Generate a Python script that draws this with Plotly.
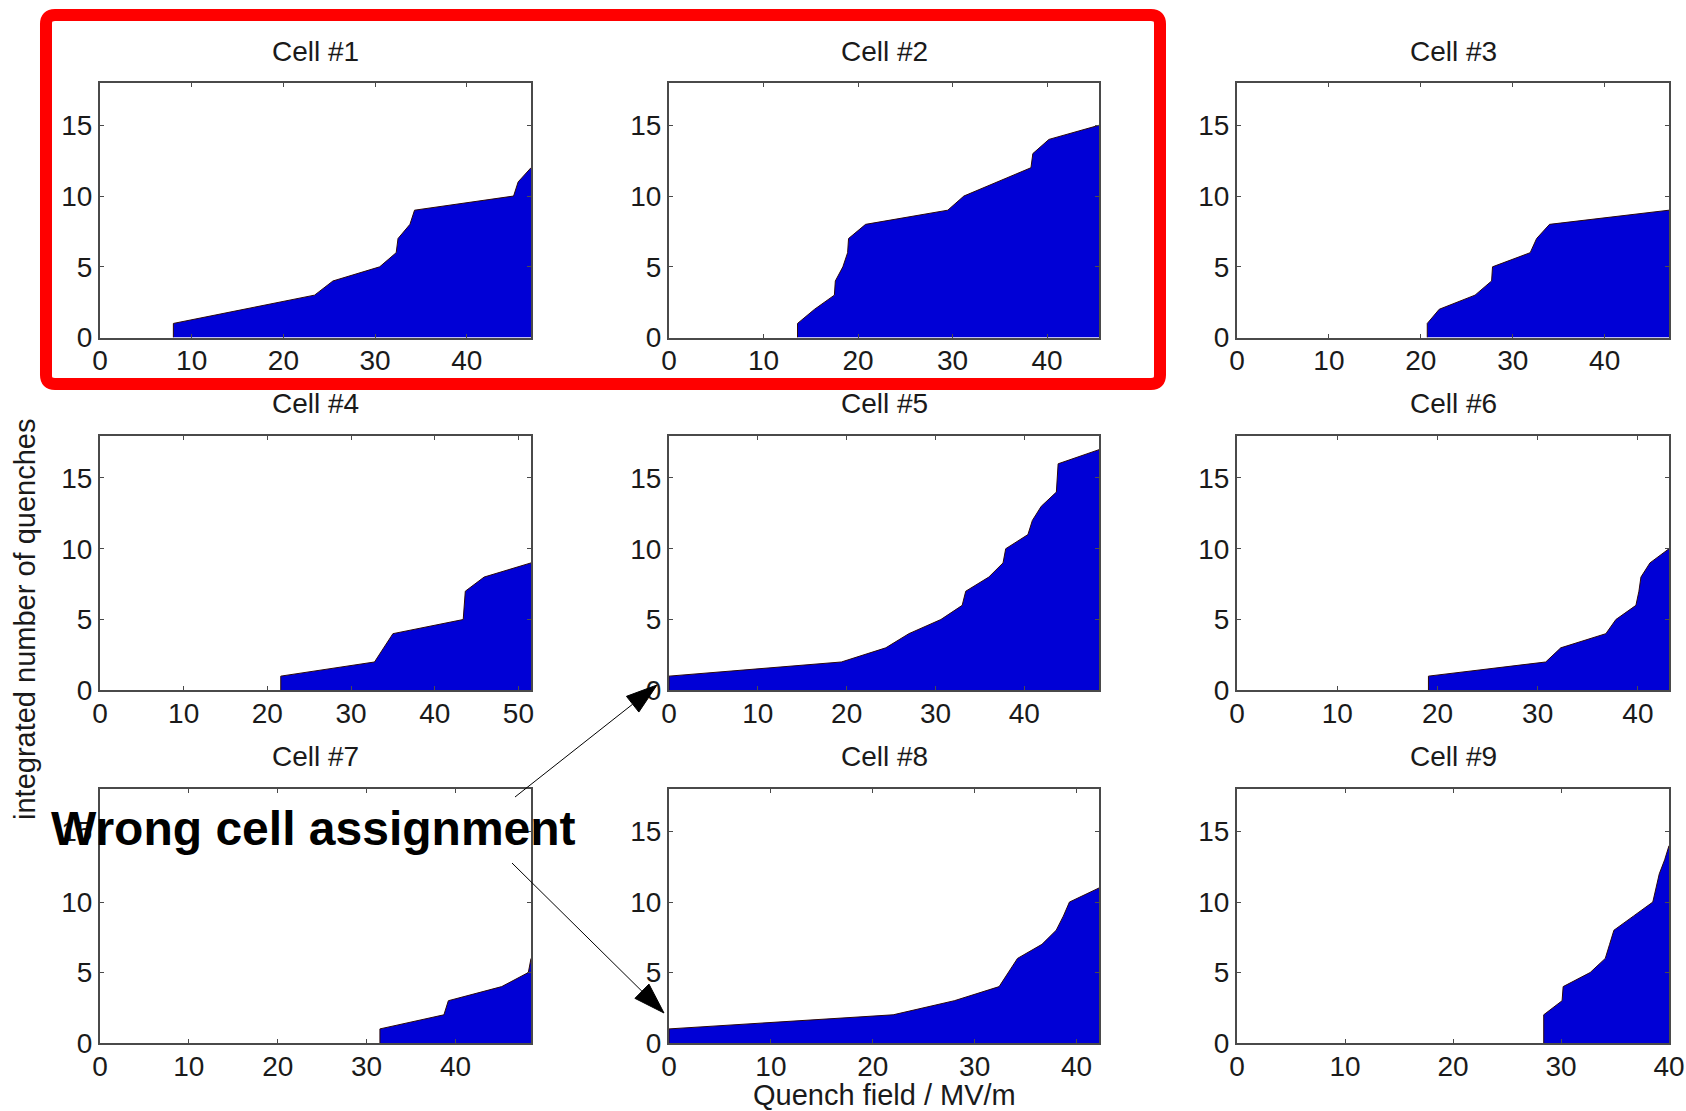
import math
import plotly.graph_objects as go

# ---------------- data ----------------
cell_titles = ["Cell #1", "Cell #2", "Cell #3", "Cell #4", "Cell #5",
               "Cell #6", "Cell #7", "Cell #8", "Cell #9"]

cell1_field = [8.0, 8.0, 15.7, 23.4, 25.4, 30.5, 32.3, 32.5, 33.8, 34.3, 45.1, 45.6, 47.0]
cell1_count = [0, 1, 2, 3, 4, 5, 6, 7, 8, 9, 10, 11, 12]

cell2_field = [13.6, 13.6, 15.4, 17.5, 17.6, 18.4, 18.9, 19.0, 20.8, 29.5, 31.2, 34.8, 38.3, 38.5, 40.2, 45.5]
cell2_count = [0, 1, 2, 3, 4, 5, 6, 7, 8, 9, 10, 11, 12, 13, 14, 15]

cell3_field = [20.7, 20.7, 22.0, 25.9, 27.7, 27.8, 31.9, 32.6, 34.0, 47.0]
cell3_count = [0, 1, 2, 3, 4, 5, 6, 7, 8, 9]

cell4_field = [21.6, 21.6, 32.8, 33.9, 35.0, 43.4, 43.5, 43.65, 45.9, 51.5]
cell4_count = [0, 1, 2, 3, 4, 5, 6, 7, 8, 9]

cell5_field = [0.0, 0.0, 19.4, 24.4, 27.0, 30.6, 33.0, 33.4, 36.0, 37.6, 37.9, 40.4, 40.9, 41.9, 43.6, 43.7, 43.8, 48.4]
cell5_count = [0, 1, 2, 3, 4, 5, 6, 7, 8, 9, 10, 11, 12, 13, 14, 15, 16, 17]

cell6_field = [19.1, 19.1, 30.8, 32.3, 36.8, 37.8, 39.8, 40.1, 40.3, 41.2, 43.1]
cell6_count = [0, 1, 2, 3, 4, 5, 6, 7, 8, 9, 10]

cell7_field = [31.5, 31.5, 38.7, 39.2, 45.2, 48.2, 48.5]
cell7_count = [0, 1, 2, 3, 4, 5, 6]

cell8_field = [0.0, 0.0, 22.0, 28.0, 32.4, 33.3, 34.2, 36.6, 38.0, 38.7, 39.3, 42.2]
cell8_count = [0, 1, 2, 3, 4, 5, 6, 7, 8, 9, 10, 11]

cell9_field = [28.4, 28.4, 30.1, 30.2, 32.7, 34.1, 34.5, 34.9, 36.7, 38.5, 38.8, 39.1, 39.6, 40.0]
cell9_count = [0, 2, 3, 4, 5, 6, 7, 8, 9, 10, 11, 12, 13, 14]

field_max = [47.0, 45.5, 47.0, 51.5, 48.4, 43.1, 48.5, 42.2, 40.0]
count_max = 18

x_ticks = [0, 10, 20, 30, 40, 50]
y_ticks = [0, 5, 10, 15]

x_label = "Quench field / MV/m"
y_label = "integrated number of quenches"
note_text = "Wrong cell assignment"

fields = [cell1_field, cell2_field, cell3_field, cell4_field, cell5_field,
          cell6_field, cell7_field, cell8_field, cell9_field]
counts = [cell1_count, cell2_count, cell3_count, cell4_count, cell5_count,
          cell6_count, cell7_count, cell8_count, cell9_count]

# ---------------- layout geometry (screen pixels) ----------------
W, H = 1686, 1111


def px(x):
    return x / W


def py(y):
    return 1 - y / H


col_px = [(100, 531), (669, 1099), (1237, 1669)]
row_px = [(82.8, 337.6), (435.5, 690.3), (789.3, 1043.0)]
title_py = [51, 403, 756]

FONT = "Liberation Sans, Arial, Helvetica, sans-serif"
TXT = "#1a1a1a"
AX = "#4a4a4a"
FILL = "rgb(0,0,214)"

fig = go.Figure()
layout = dict(
    width=W, height=H,
    margin=dict(l=0, r=0, t=0, b=0, autoexpand=False),
    paper_bgcolor="white", plot_bgcolor="white",
    showlegend=False,
    font=dict(family=FONT, size=28, color=TXT),
)
annotations = []
shapes = []

for i in range(9):
    r, c = divmod(i, 3)
    n = i + 1
    xs = "" if n == 1 else str(n)
    fig.add_trace(go.Scatter(
        x=fields[i], y=counts[i], mode="lines", fill="tozeroy",
        fillcolor=FILL, line=dict(color="#2a0808", width=1),
        xaxis="x" + xs, yaxis="y" + xs, hoverinfo="skip",
    ))
    x0, x1 = col_px[c]
    y0, y1 = row_px[r]
    common = dict(showline=True, linecolor=AX, linewidth=2, mirror="ticks",
                  ticks="inside", ticklen=4, tickwidth=1, tickcolor=AX,
                  showgrid=False, zeroline=False, ticklabeloverflow="allow",
                  automargin=False,
                  tickfont=dict(family=FONT, size=28, color=TXT))
    layout["xaxis" + xs] = dict(domain=[px(x0), px(x1)], range=[0, field_max[i]],
                                tickvals=x_ticks, anchor="y" + xs,
                                ticklabelstandoff=-3, **common)
    layout["yaxis" + xs] = dict(domain=[py(y1), py(y0)], range=[0, count_max],
                                tickvals=y_ticks, anchor="x" + xs, **common)
    annotations.append(dict(
        text=cell_titles[i], x=px((x0 + x1) / 2), y=py(title_py[r]),
        xref="paper", yref="paper", xanchor="center", yanchor="middle",
        showarrow=False, font=dict(family=FONT, size=28, color=TXT)))

# axis labels
annotations.append(dict(text=x_label, x=px(884), y=py(1095), xref="paper", yref="paper",
                        xanchor="center", yanchor="middle", showarrow=False,
                        font=dict(family=FONT, size=29, color=TXT)))
annotations.append(dict(text=y_label, x=px(25), y=py(620), xref="paper", yref="paper",
                        xanchor="center", yanchor="middle", showarrow=False, textangle=-90,
                        font=dict(family=FONT, size=29, color=TXT)))
# big note
annotations.append(dict(text="<b>" + note_text + "</b>", x=px(313), y=py(828),
                        xref="paper", yref="paper", xanchor="center", yanchor="middle",
                        showarrow=False, font=dict(family=FONT, size=48, color="black")))

# arrows
arrows = [((515, 797), (657, 685)), ((512, 863), (664, 1013))]
HEAD_L, HEAD_HW = 31, 10
for (sx, sy), (tx, ty) in arrows:
    dx, dy = tx - sx, ty - sy
    L = math.hypot(dx, dy)
    ux, uy = dx / L, dy / L
    bx, by = tx - ux * HEAD_L, ty - uy * HEAD_L
    nx, ny = -uy, ux
    shapes.append(dict(type="line", xref="paper", yref="paper",
                       x0=px(sx), y0=py(sy), x1=px(bx), y1=py(by),
                       line=dict(color="black", width=1)))
    p1 = (bx + nx * HEAD_HW, by + ny * HEAD_HW)
    p2 = (bx - nx * HEAD_HW, by - ny * HEAD_HW)
    path = "M {:.5f} {:.5f} L {:.5f} {:.5f} L {:.5f} {:.5f} Z".format(
        px(tx), py(ty), px(p1[0]), py(p1[1]), px(p2[0]), py(p2[1]))
    shapes.append(dict(type="path", xref="paper", yref="paper", path=path,
                       fillcolor="black", line=dict(color="black", width=1)))

# red rounded rectangle highlighting cells 1 and 2
rx0, ry0, rx1, ry1, rad = 46, 15, 1160, 384, 9
pts = [
    ("M", (rx0 + rad, ry0)), ("L", (rx1 - rad, ry0)), ("Q", (rx1, ry0), (rx1, ry0 + rad)),
    ("L", (rx1, ry1 - rad)), ("Q", (rx1, ry1), (rx1 - rad, ry1)),
    ("L", (rx0 + rad, ry1)), ("Q", (rx0, ry1), (rx0, ry1 - rad)),
    ("L", (rx0, ry0 + rad)), ("Q", (rx0, ry0), (rx0 + rad, ry0)),
]
segs = []
for p in pts:
    cmd = p[0]
    coords = " ".join("{:.5f} {:.5f}".format(px(a), py(b)) for a, b in p[1:])
    segs.append(cmd + " " + coords)
shapes.append(dict(type="path", xref="paper", yref="paper", path=" ".join(segs) + " Z",
                   line=dict(color="#ff0000", width=12), fillcolor="rgba(0,0,0,0)"))

layout["annotations"] = annotations
layout["shapes"] = shapes
fig.update_layout(**layout)

page_fix = ("document.documentElement.style.margin='0';"
            "document.documentElement.style.overflow='hidden';"
            "document.body.style.margin='0';"
            "document.body.style.overflow='hidden';"
            "var gd=document.getElementById('{plot_id}');"
            "if(gd){gd.style.position='fixed';gd.style.left='0px';gd.style.top='0px';}")
fig.write_html("out.html", post_script=page_fix,
               config={"displayModeBar": False, "responsive": False})
